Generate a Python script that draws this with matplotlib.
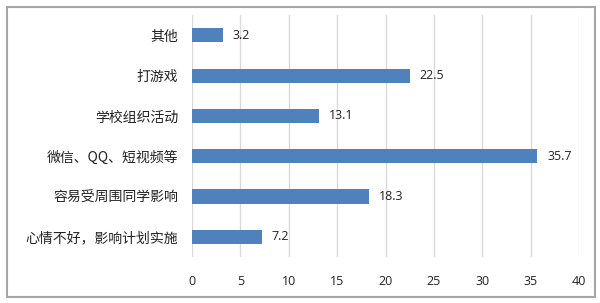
import matplotlib.pyplot as plt
from matplotlib.patches import Rectangle

# categories listed top to bottom as in the chart
categories = ['其他', '打游戏', '学校组织活动', '微信、QQ、短视频等', '容易受周围同学影响', '心情不好，影响计划实施']
values = [3.2, 22.5, 13.1, 35.7, 18.3, 7.2]
x_ticks = [0, 5, 10, 15, 20, 25, 30, 35, 40]

plt.rcParams['font.family'] = ['Noto Sans CJK SC', 'DejaVu Sans']

fig = plt.figure(figsize=(6, 3.03), dpi=100)
ax = fig.add_axes([0.32, 0.152, 0.645, 0.798])

# outer chart border
fig.patches.append(Rectangle((7 / 600, 6 / 303), 588 / 600, 290 / 303, transform=fig.transFigure,
                             fill=False, edgecolor='#A6A6A6', linewidth=1.5))

pos = list(range(len(categories)))[::-1]
ax.barh(pos, values, height=0.35, color='#4F81BD', zorder=3)
for p, v in zip(pos, values):
    ax.text(v + 1.0, p, f'{v}', va='center', ha='left', fontsize=9,
            family=['Open Sans', 'DejaVu Sans'], color='#222222')

ax.set_yticks(pos)
ax.set_yticklabels(categories, fontsize=10, color='#222222')
ax.set_xlim(0, 40)
ax.set_ylim(-0.5, len(categories) - 0.5)
ax.set_xticks(x_ticks)
ax.set_xticklabels([str(t) for t in x_ticks], fontsize=9, family=['Open Sans', 'DejaVu Sans'], color='#222222')
ax.tick_params(axis='both', length=0)
ax.tick_params(axis='x', pad=13)
ax.tick_params(axis='y', pad=10)
ax.grid(axis='x', color='#D9D9D9', linewidth=1, zorder=0)
for s in ax.spines.values():
    s.set_visible(False)

plt.savefig('out.png', dpi=100)
